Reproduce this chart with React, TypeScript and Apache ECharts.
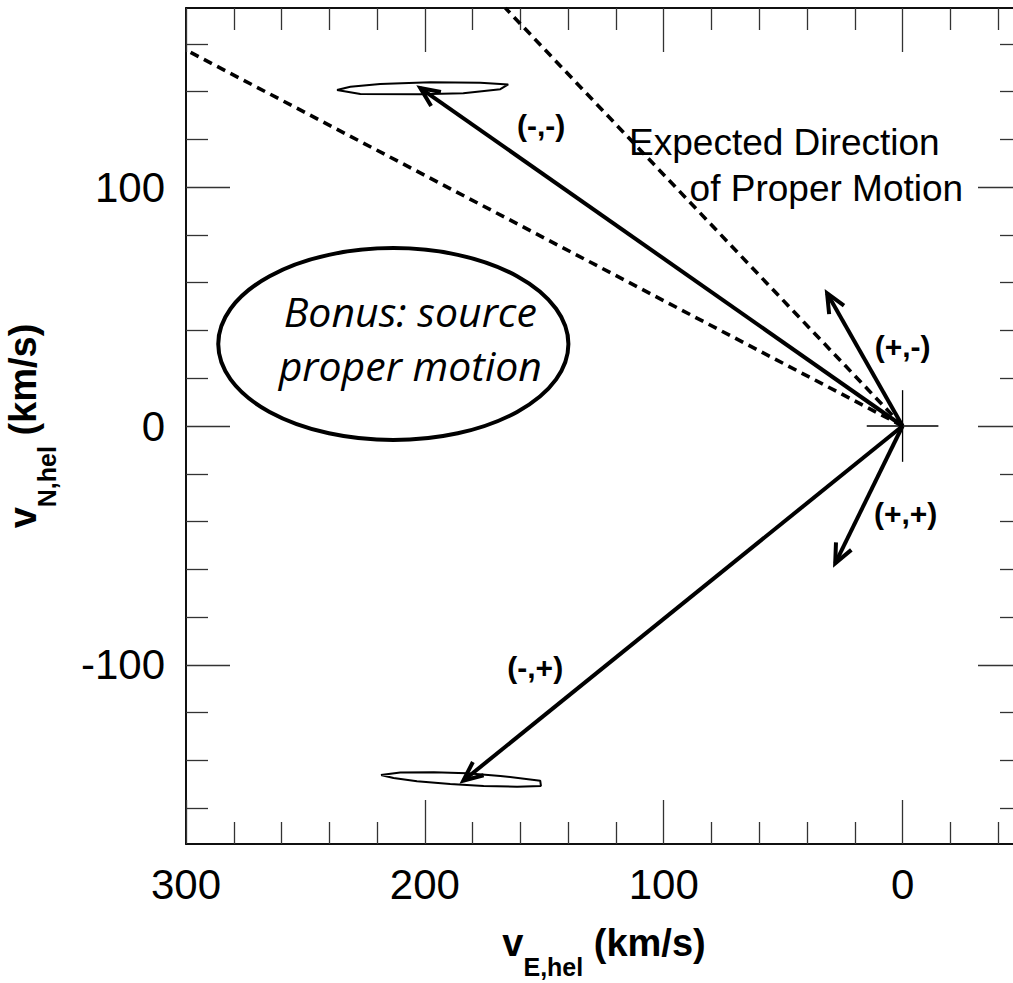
import React, { useEffect, useRef } from "react";
import * as echarts from "echarts";

// ---- axis ranges & ticks (km/s) ----
const X_MIN = -50;
const X_MAX = 300;
const Y_MIN = -175;
const Y_MAX = 175;
const majorX = [0, 100, 200, 300];
const minorX = [-40, -20, 20, 40, 60, 80, 120, 140, 160, 180, 220, 240, 260, 280];
const majorY = [-100, 0, 100];
const minorY = [-160, -140, -120, -80, -60, -40, -20, 20, 40, 60, 80, 120, 140, 160];

// ---- proper-motion arrows (tips, from origin) ----
const arrowLabels = ["(-,-)", "(+,-)", "(+,+)", "(-,+)"];
const arrowTipX = [201.9, 31.6, 28.2, 183.9];
const arrowTipY = [141.5, 55.6, -57.5, -148.5];
const arrowLabelX = [151.3, 0, -1.3, 153.8];
const arrowLabelY = [125.6, 33.1, -36.8, -101.3];

// ---- expected direction (dashed) ----
const expectedEndX = [300, 166.3];
const expectedEndY = [157.4, 175];
const expectedText = ["Expected Direction", "of Proper Motion"];
const expectedTextX = [49.5, 31.9];
const expectedTextY = [118.5, 99.6];

// ---- origin cross ----
const crossHalf = 15;

// ---- error contours ----
const errTopX = [236.8, 231.2, 218.7, 197.7, 176.8, 165.1, 168.4, 183.9, 201.9, 227.0, 236.8];
const errTopY = [140.7, 142.0, 143.2, 143.9, 143.7, 143.0, 141.0, 139.3, 138.9, 139.0, 140.7];
const errBotX = [218.4, 210.3, 196.3, 182.4, 168.4, 151.7, 151.4, 161.4, 175.4, 189.4, 203.3, 213.1, 218.4];
const errBotY = [-146.1, -145.1, -145.0, -145.4, -146.5, -148.5, -150.7, -151.0, -150.7, -149.9, -148.7, -147.4, -146.1];

// ---- bonus annotation ----
const bonusCenter = [213.2, 34.3];
const bonusRadii = [73.3, 40.2];
const bonusLines = ["Bonus: source", "proper motion"];
const bonusLineX = [206.1, 206.1];
const bonusLineY = [48.2, 25.5];

const FONT = '"Liberation Sans", Arial, sans-serif';

function xAxisDef(position: string, values: number[], len: number, main: boolean) {
  return {
    type: "value",
    position,
    min: X_MIN,
    max: X_MAX,
    inverse: true,
    axisLine: { show: true, onZero: false, lineStyle: { color: "#000", width: 1.5 } },
    axisTick: { show: true, inside: true, length: len, customValues: values, lineStyle: { color: "#333", width: 1.3 } },
    axisLabel: main
      ? { show: true, customValues: values, fontSize: 42, color: "#000", fontFamily: FONT, margin: 19 }
      : { show: false },
    splitLine: { show: false },
    ...(main
      ? {
          name: "{v|v}{sub|E,hel}{v| (km/s)}",
          nameLocation: "middle",
          nameGap: 80,
          nameTextStyle: {
            rich: {
              v: { fontSize: 38, fontWeight: "bold", fontFamily: FONT, color: "#000", verticalAlign: "top", lineHeight: 40 },
              sub: { fontSize: 25, fontWeight: "bold", fontFamily: FONT, color: "#000", verticalAlign: "top", padding: [30, 0, 0, 0] },
            },
          },
        }
      : {}),
  };
}

function yAxisDef(position: string, values: number[], len: number, main: boolean) {
  return {
    type: "value",
    position,
    min: Y_MIN,
    max: Y_MAX,
    axisLine: { show: true, onZero: false, lineStyle: { color: "#000", width: 1.5 } },
    axisTick: { show: true, inside: true, length: len, customValues: values, lineStyle: { color: "#333", width: 1.3 } },
    axisLabel: main
      ? { show: true, customValues: values, fontSize: 42, color: "#000", fontFamily: FONT, margin: 21 }
      : { show: false },
    splitLine: { show: false },
    ...(main
      ? {
          name: "{v|v}{sub|N,hel}{v| (km/s)}",
          nameLocation: "middle",
          nameRotate: 90,
          nameGap: 127,
          nameTextStyle: {
            rich: {
              v: { fontSize: 38, fontWeight: "bold", fontFamily: FONT, color: "#000", verticalAlign: "top", lineHeight: 40 },
              sub: { fontSize: 25, fontWeight: "bold", fontFamily: FONT, color: "#000", verticalAlign: "top", padding: [30, 0, 0, 0] },
            },
          },
        }
      : {}),
  };
}

export default function App() {
  const ref = useRef<HTMLDivElement>(null);

  useEffect(() => {
    if (!ref.current) return;
    const chart = echarts.init(ref.current, null, { renderer: "svg" });

    const dashedSeries = expectedEndX.map((ex, i) => ({
      type: "line",
      data: [
        [0, 0],
        [ex, expectedEndY[i]],
      ],
      symbol: "none",
      showSymbol: false,
      lineStyle: { color: "#000", width: 3.6, type: [9, 6] },
      z: 2,
      silent: true,
    }));

    const crossSeries = [
      { type: "line", data: [[crossHalf, 0], [-crossHalf, 0]] },
      { type: "line", data: [[0, crossHalf], [0, -crossHalf]] },
    ].map((s) => ({ ...s, symbol: "none", showSymbol: false, lineStyle: { color: "#000", width: 1.3 }, z: 2, silent: true }));

    const errSeries = [
      errTopX.map((x, i) => [x, errTopY[i]]),
      errBotX.map((x, i) => [x, errBotY[i]]),
    ].map((d) => ({
      type: "line",
      data: d,
      symbol: "none",
      showSymbol: false,
      lineStyle: { color: "#000", width: 2 },
      z: 3,
      silent: true,
    }));

    const option: any = {
      animation: false,
      grid: { left: 186, top: 8, width: 836, height: 836, outerBoundsMode: "none" },
      xAxis: [
        xAxisDef("bottom", majorX, 44, true),
        xAxisDef("bottom", minorX, 22, false),
        xAxisDef("top", majorX, 44, false),
        xAxisDef("top", minorX, 22, false),
      ],
      yAxis: [
        yAxisDef("left", majorY, 44, true),
        yAxisDef("left", minorY, 22, false),
        yAxisDef("right", majorY, 44, false),
        yAxisDef("right", minorY, 22, false),
      ],
      series: [
        ...dashedSeries,
        ...crossSeries,
        ...errSeries,
        {
          type: "custom",
          z: 4,
          silent: true,
          data: [bonusCenter],
          renderItem: (params: any, api: any) => {
            const c = api.coord([api.value(0), api.value(1)]);
            const s = api.size([bonusRadii[0], bonusRadii[1]]);
            const rx = s[0];
            const ry = s[1];
            const d = `M ${c[0] - rx} ${c[1]} A ${rx} ${ry} 0 1 0 ${c[0] + rx} ${c[1]} A ${rx} ${ry} 0 1 0 ${c[0] - rx} ${c[1]} Z`;
            const texts = bonusLines.map((t, i) => {
              const p = api.coord([bonusLineX[i], bonusLineY[i]]);
              return {
                type: "text",
                x: p[0],
                y: p[1],
                style: {
                  text: t,
                  fill: "#000",
                  fontSize: 41,
                  fontStyle: "italic",
                  fontFamily: '"Open Sans", sans-serif',
                  align: "center",
                  verticalAlign: "middle",
                },
              };
            });
            return {
              type: "group",
              children: [
                { type: "path", shape: { pathData: d }, style: { fill: "#fff", stroke: "#000", lineWidth: 4 } },
                ...texts,
              ],
            };
          },
        },
        {
          type: "custom",
          z: 5,
          silent: true,
          data: arrowTipX.map((x, i) => [x, arrowTipY[i]]),
          renderItem: (params: any, api: any) => {
            const o = api.coord([0, 0]);
            const t = api.coord([api.value(0), api.value(1)]);
            const dx = o[0] - t[0];
            const dy = o[1] - t[1];
            const len = Math.hypot(dx, dy);
            const ux = dx / len;
            const uy = dy / len;
            const headLen = 21;
            const ang = (24 * Math.PI) / 180;
            const rot = (a: number) => [ux * Math.cos(a) - uy * Math.sin(a), ux * Math.sin(a) + uy * Math.cos(a)];
            const w1 = rot(ang);
            const w2 = rot(-ang);
            return {
              type: "group",
              children: [
                {
                  type: "line",
                  shape: { x1: o[0], y1: o[1], x2: t[0], y2: t[1] },
                  style: { stroke: "#000", lineWidth: 4 },
                },
                {
                  type: "polyline",
                  shape: {
                    points: [
                      [t[0] + w1[0] * headLen, t[1] + w1[1] * headLen],
                      [t[0], t[1]],
                      [t[0] + w2[0] * headLen, t[1] + w2[1] * headLen],
                    ],
                  },
                  style: { stroke: "#000", lineWidth: 4, fill: null, lineJoin: "miter" },
                },
              ],
            };
          },
        },
        {
          type: "custom",
          z: 6,
          silent: true,
          data: arrowLabelX.map((x, i) => [x, arrowLabelY[i]]),
          renderItem: (params: any, api: any) => {
            const p = api.coord([api.value(0), api.value(1)]);
            return {
              type: "text",
              x: p[0],
              y: p[1],
              style: {
                text: arrowLabels[params.dataIndex],
                fill: "#000",
                fontSize: 30,
                fontWeight: "bold",
                fontFamily: FONT,
                align: "center",
                verticalAlign: "middle",
              },
            };
          },
        },
        {
          type: "custom",
          z: 6,
          silent: true,
          data: expectedTextX.map((x, i) => [x, expectedTextY[i]]),
          renderItem: (params: any, api: any) => {
            const p = api.coord([api.value(0), api.value(1)]);
            return {
              type: "text",
              x: p[0],
              y: p[1],
              style: {
                text: expectedText[params.dataIndex],
                fill: "#000",
                fontSize: 37,
                fontFamily: FONT,
                align: "center",
                verticalAlign: "middle",
              },
            };
          },
        },
      ],
    };

    chart.setOption(option);
    return () => chart.dispose();
  }, []);

  return (
    <div
      ref={ref}
      style={{ position: "absolute", left: 0, top: 0, width: 1013, height: 983, background: "#fff" }}
    />
  );
}
